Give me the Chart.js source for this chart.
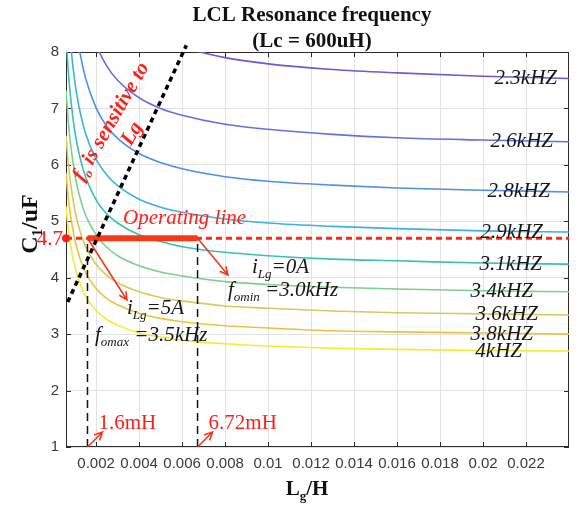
<!DOCTYPE html>
<html>
<head>
<meta charset="utf-8">
<script src="https://cdn.jsdelivr.net/npm/chart.js@4.4.1/dist/chart.umd.min.js"></script>
<style>
  html, body { margin: 0; padding: 0; background: #fff; }
</style>
</head>
<body>
<canvas id="lclChart" width="581" height="506"></canvas>
<script>
// grid-side inductance samples, H
const lgSamples = [0.0006, 0.0007, 0.0008, 0.001, 0.0012, 0.0015, 0.002, 0.0025, 0.003, 0.004, 0.005, 0.006, 0.008, 0.010, 0.013, 0.016, 0.020, 0.024];

// filter capacitance (uF) along each resonance contour, null = off the top
const c23k = [null, null, null, null, null, null, null, null, null, null, 8.23, 8.09, 7.90, 7.79, 7.69, 7.63, 7.57, 7.53];
const c26k = [null, null, null, null, null, 8.75, 8.13, 7.75, 7.50, 7.19, 7.00, 6.88, 6.72, 6.63, 6.54, 6.48, 6.44, 6.41];
const c28k = [null, null, null, 8.62, 8.09, 7.55, 7.01, 6.68, 6.47, 6.20, 6.04, 5.93, 5.79, 5.71, 5.64, 5.59, 5.55, 5.52];
const c29k = [null, 8.71, 8.21, 7.50, 7.04, 6.57, 6.10, 5.82, 5.63, 5.39, 5.25, 5.16, 5.04, 4.97, 4.91, 4.87, 4.83, 4.81];
const c31k = [8.28, 7.69, 7.25, 6.62, 6.21, 5.80, 5.38, 5.13, 4.97, 4.76, 4.64, 4.55, 4.45, 4.39, 4.33, 4.30, 4.26, 4.24];
const c34k = [7.32, 6.80, 6.41, 5.86, 5.49, 5.12, 4.76, 4.54, 4.39, 4.21, 4.10, 4.03, 3.93, 3.88, 3.83, 3.80, 3.77, 3.75];
const c36k = [6.52, 6.05, 5.71, 5.22, 4.89, 4.56, 4.24, 4.04, 3.91, 3.75, 3.65, 3.59, 3.50, 3.46, 3.41, 3.38, 3.36, 3.34];
const c38k = [5.86, 5.44, 5.13, 4.69, 4.40, 4.10, 3.81, 3.63, 3.52, 3.37, 3.28, 3.22, 3.15, 3.11, 3.06, 3.04, 3.02, 3.00];
const c4k  = [5.26, 4.88, 4.60, 4.21, 3.95, 3.68, 3.42, 3.26, 3.16, 3.02, 2.95, 2.89, 2.83, 2.79, 2.75, 2.73, 2.71, 2.70];

const contourNames = ['2.3kHZ', '2.6kHZ', '2.8kHZ', '2.9kHZ', '3.1kHZ', '3.4kHZ', '3.6kHZ', '3.8kHZ', '4kHZ'];
const contourValues = [c23k, c26k, c28k, c29k, c31k, c34k, c36k, c38k, c4k];
const contourColors = ['#6a5bd6', '#6470e2', '#4d90e8', '#3cb2dc', '#36c2b4', '#7ccf8c', '#d8c95c', '#f1c03e', '#f4ec2e'];

// operating point
const opC = 4.7;          // uF
const lgLow = 0.0016;     // H, 1.6mH
const lgHigh = 0.00672;   // H, 6.72mH

// line where fo is sensitive to Lg
const sensLg = [0.00068, 0.0062];
const sensC = [3.57, 8.12];

// axes
const xMin = 0.0006, xMax = 0.024;
const yMin = 1, yMax = 8;
const xTicks = [0.002, 0.004, 0.006, 0.008, 0.010, 0.012, 0.014, 0.016, 0.018, 0.020, 0.022];
const xTickLabels = ['0.002', '0.004', '0.006', '0.008', '0.01', '0.012', '0.014', '0.016', '0.018', '0.02', '0.022'];
const yTicks = [1, 2, 3, 4, 5, 6, 7, 8];
const yTickLabels = ['1', '2', '3', '4', '5', '6', '7', '8'];

const SERIF = '"Liberation Serif", "Times New Roman", serif';
const RED = '#ff1f1a';

// text with subscript runs: parts = [[text, isSub], ...]
function richWidth(ctx, parts, size, style) {
    let w = 0;
    parts.forEach(([t, sub]) => {
        ctx.font = `${style} ${sub ? Math.round(size * 0.64) : size}px ${SERIF}`;
        w += ctx.measureText(t).width;
    });
    return w;
}
function drawRich(ctx, parts, x, y, size, style, color) {
    let cx = x;
    ctx.fillStyle = color;
    ctx.textAlign = 'left';
    ctx.textBaseline = 'alphabetic';
    parts.forEach(([t, sub]) => {
        ctx.font = `${style} ${sub ? Math.round(size * 0.64) : size}px ${SERIF}`;
        ctx.fillText(t, cx, sub ? y + size * 0.22 : y);
        cx += ctx.measureText(t).width;
    });
}
function arrow(ctx, x0, y0, x1, y1, color) {
    const ang = Math.atan2(y1 - y0, x1 - x0);
    const h = 9;
    ctx.strokeStyle = color;
    ctx.lineWidth = 1.6;
    ctx.beginPath();
    ctx.moveTo(x0, y0);
    ctx.lineTo(x1, y1);
    ctx.moveTo(x1 - h * Math.cos(ang - 0.45), y1 - h * Math.sin(ang - 0.45));
    ctx.lineTo(x1, y1);
    ctx.lineTo(x1 - h * Math.cos(ang + 0.45), y1 - h * Math.sin(ang + 0.45));
    ctx.stroke();
}

const frame = {
    id: 'frame',
    beforeDatasetsDraw(chart) {
        const { ctx, chartArea: a, scales: { x, y } } = chart;
        ctx.save();
        ctx.strokeStyle = '#2b2b2b';
        ctx.lineWidth = 1;
        ctx.strokeRect(a.left + 0.5, a.top + 0.5, a.right - a.left - 1, a.bottom - a.top - 1);
        ctx.beginPath();
        xTicks.forEach(v => {
            const px = Math.round(x.getPixelForValue(v)) + 0.5;
            ctx.moveTo(px, a.bottom); ctx.lineTo(px, a.bottom - 5);
            ctx.moveTo(px, a.top); ctx.lineTo(px, a.top + 5);
        });
        yTicks.forEach(v => {
            const py = Math.round(y.getPixelForValue(v)) + 0.5;
            ctx.moveTo(a.left, py); ctx.lineTo(a.left + 5, py);
            ctx.moveTo(a.right, py); ctx.lineTo(a.right - 5, py);
        });
        ctx.stroke();
        ctx.restore();
    },
    afterDatasetsDraw(chart) {
        const { ctx, chartArea: a, scales: { x, y } } = chart;
        ctx.save();

        // title
        ctx.fillStyle = '#111';
        ctx.font = `bold 21px ${SERIF}`;
        ctx.textAlign = 'center';
        ctx.textBaseline = 'middle';
        ctx.fillText('LCL Resonance frequency', 312, 16);
        ctx.fillText('(Lc = 600uH)', 312, 42);

        // axis titles
        const xt = [['L', false], ['g', true], ['/H', false]];
        drawRich(ctx, xt, 307 - richWidth(ctx, xt, 21, 'bold') / 2, 495, 21, 'bold', '#111');
        const yt = [['C', false], ['1', true], ['/uF', false]];
        ctx.save();
        ctx.translate(29, 224);
        ctx.rotate(-Math.PI / 2);
        drawRich(ctx, yt, -richWidth(ctx, yt, 24, 'bold') / 2, 8, 24, 'bold', '#111');
        ctx.restore();

        // contour labels on the right end of each curve
        ctx.font = `italic 21px ${SERIF}`;
        ctx.textAlign = 'right';
        ctx.textBaseline = 'middle';
        ctx.fillStyle = '#161616';
        const labelInset = [12, 16, 19, 26, 27, 36, 31, 36, 47];
        contourNames.forEach((name, i) => {
            const vals = contourValues[i];
            ctx.fillText(name, a.right - labelInset[i], y.getPixelForValue(vals[vals.length - 1]));
        });

        const pyOp = y.getPixelForValue(opC);
        const pxLow = x.getPixelForValue(lgLow);
        const pxHigh = x.getPixelForValue(lgHigh);

        // operating capacitance marker
        ctx.fillStyle = RED;
        ctx.beginPath();
        ctx.arc(a.left, pyOp, 4, 0, Math.PI * 2);
        ctx.fill();
        ctx.font = `21px ${SERIF}`;
        ctx.textAlign = 'right';
        ctx.fillText('4.7', 63, pyOp + 1);

        ctx.font = `italic 21px ${SERIF}`;
        ctx.textAlign = 'left';
        ctx.fillText('Operating line', 123, pyOp - 20);

        // arrows from the ends of the operating line
        arrow(ctx, pxLow, pyOp, 127, 300, '#f0391e');
        arrow(ctx, pxHigh, pyOp, 228, 275, '#f0391e');

        drawRich(ctx, [['i', false], ['Lg', true], ['=5A', false]], 127, 314, 21, 'italic', '#161616');
        drawRich(ctx, [['f', false], ['omax', true], [' =3.5kHz', false]], 95, 341, 21, 'italic', '#161616');
        drawRich(ctx, [['i', false], ['Lg', true], ['=0A', false]], 252, 273, 21, 'italic', '#161616');
        drawRich(ctx, [['f', false], ['omin', true], [' =3.0kHz', false]], 228, 296, 21, 'italic', '#161616');

        // inductance markers on the x axis
        [[pxLow, '1.6mH'], [pxHigh, '6.72mH']].forEach(([px, txt]) => {
            arrow(ctx, px, a.bottom, px + 15, a.bottom - 15, '#f0391e');
            ctx.font = `21px ${SERIF}`;
            ctx.fillStyle = RED;
            ctx.textAlign = 'left';
            ctx.textBaseline = 'middle';
            ctx.fillText(txt, px + 11, 423);
        });

        // sensitivity note along the dotted line
        ctx.save();
        ctx.translate(110, 121);
        ctx.rotate(-Math.PI / 3);
        const note = [['f', false], ['o', true], [' is sensitive to', false]];
        drawRich(ctx, note, -richWidth(ctx, note, 21, 'bold italic') / 2, 7, 21, 'bold italic', RED);
        const note2 = [['Lg', false]];
        drawRich(ctx, note2, -richWidth(ctx, note2, 21, 'bold italic') / 2, 31, 21, 'bold italic', RED);
        ctx.restore();

        ctx.restore();
    }
};

const pts = (xs, ys) => xs.map((v, i) => ({ x: v, y: ys[i] })).filter(p => p.y !== null);

const datasets = [
    {
        data: pts(sensLg, sensC),
        borderColor: '#000', borderWidth: 3.5, borderDash: [5, 4], clip: false,
    },
    {
        data: pts([lgLow, lgHigh], [opC, opC]),
        borderColor: '#f5391a', borderWidth: 6,
    },
    {
        data: pts([xMin, xMax], [opC, opC]),
        borderColor: '#ff2a14', borderWidth: 3, borderDash: [6, 4],
    },
    {
        data: pts([lgLow, lgLow], [yMin, opC]),
        borderColor: '#111', borderWidth: 1.5, borderDash: [8, 5],
    },
    {
        data: pts([lgHigh, lgHigh], [yMin, opC]),
        borderColor: '#111', borderWidth: 1.5, borderDash: [8, 5],
    },
];
contourValues.forEach((vals, i) => {
    datasets.push({
        data: pts(lgSamples, vals),
        borderColor: contourColors[i],
        borderWidth: 1.6,
        cubicInterpolationMode: 'monotone',
    });
});

const ctx = document.getElementById('lclChart').getContext('2d');
new Chart(ctx, {
    type: 'line',
    data: { datasets },
    options: {
        responsive: false,
        animation: false,
        devicePixelRatio: 1,
        layout: { padding: { top: 52, right: 12, left: 0, bottom: 0 } },
        elements: { point: { radius: 0 }, line: { fill: false } },
        plugins: { legend: { display: false }, tooltip: { enabled: false }, title: { display: false } },
        scales: {
            x: {
                type: 'linear',
                min: xMin,
                max: xMax,
                afterBuildTicks: s => { s.ticks = xTicks.map(v => ({ value: v })); },
                afterFit: s => { s.height = 59; },
                border: { display: false },
                grid: { color: '#e2e2e2', drawTicks: false },
                ticks: {
                    autoSkip: false, maxRotation: 0, padding: 8,
                    color: '#3a3a3a',
                    font: { family: '"Liberation Sans", Arial, sans-serif', size: 15 },
                    callback: (v, i) => xTickLabels[i],
                },
            },
            y: {
                type: 'linear',
                min: yMin,
                max: yMax,
                afterBuildTicks: s => { s.ticks = yTicks.map(v => ({ value: v })); },
                afterFit: s => { s.width = 66; },
                border: { display: false },
                grid: { color: '#e2e2e2', drawTicks: false },
                ticks: {
                    padding: 7,
                    color: '#3a3a3a',
                    font: { family: '"Liberation Sans", Arial, sans-serif', size: 15 },
                    callback: (v, i) => yTickLabels[i],
                },
            },
        },
    },
    plugins: [frame],
});
</script>
</body>
</html>
